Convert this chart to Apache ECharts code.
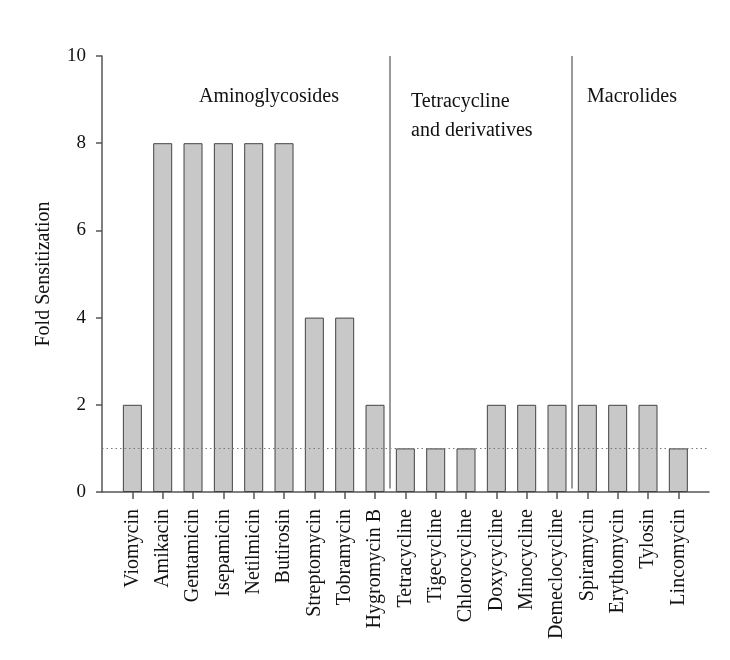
<!DOCTYPE html>
<html>
<head>
<meta charset="utf-8">
<script src="https://cdn.jsdelivr.net/npm/echarts@6/dist/echarts.min.js"></script>
<style>
  html, body { margin: 0; padding: 0; background: #fff; }
  #chart { width: 730px; height: 660px; }
</style>
</head>
<body>
<div id="chart"></div>
<script>
// Antibiotics tested, in plotting order
const drugs = [
  'Viomycin', 'Amikacin', 'Gentamicin', 'Isepamicin', 'Netilmicin', 'Butirosin',
  'Streptomycin', 'Tobramycin', 'Hygromycin B',
  'Tetracycline', 'Tigecycline', 'Chlorocycline', 'Doxycycline', 'Minocycline', 'Demeclocycline',
  'Spiramycin', 'Erythomycin', 'Tylosin', 'Lincomycin'
];
// Fold sensitization per antibiotic
const foldSensitization = [2, 8, 8, 8, 8, 8, 4, 4, 2, 1, 1, 1, 2, 2, 2, 2, 2, 2, 1];
// Antibiotic classes and how many drugs belong to each
const groupNames = ['Aminoglycosides', 'Tetracycline\nand derivatives', 'Macrolides'];
const groupSizes = [9, 6, 4];
// Reference level (no change in sensitivity)
const baseline = 1;
// Y axis ticks
const yMin = 0, yMax = 10, yStep = 2;

// Class boundaries sit between the last drug of one class and the first of the next
const boundaries = [];
let acc = 0;
for (let i = 0; i < groupSizes.length - 1; i++) {
  acc += groupSizes[i];
  boundaries.push(acc - 0.5);
}

const font = '"Liberation Serif", "Times New Roman", serif';
const axisColor = '#555';
const chart = echarts.init(document.getElementById('chart'));

const option = {
  backgroundColor: '#fff',
  animation: false,
  grid: [
    { left: 102, top: 56, width: 607, height: 436 },
    { left: 117.2, top: 56, width: 576.3, height: 436 }
  ],
  xAxis: [
    { // frame axis spanning the full plot width
      type: 'value', gridIndex: 0, min: 0, max: 1,
      axisLine: { show: true, lineStyle: { color: axisColor, width: 1.5 } },
      axisTick: { show: false }, axisLabel: { show: false }, splitLine: { show: false }
    },
    { // drug categories
      type: 'category', gridIndex: 1, data: drugs,
      axisLine: { show: false },
      axisTick: { show: true, alignWithLabel: true, length: 7, lineStyle: { color: axisColor, width: 1.5 } },
      axisLabel: { rotate: 90, interval: 0, margin: 17, fontFamily: font, fontSize: 20, color: '#111' },
      splitLine: { show: false }
    },
    { // index scale used for class separators
      type: 'value', gridIndex: 1, min: -0.5, max: drugs.length - 0.5, show: false
    }
  ],
  yAxis: [
    {
      type: 'value', gridIndex: 0, min: yMin, max: yMax, interval: yStep,
      name: 'Fold Sensitization', nameLocation: 'middle', nameGap: 48, nameRotate: 90,
      nameTextStyle: { fontFamily: font, fontSize: 20, color: '#111' },
      axisLine: { show: true, lineStyle: { color: axisColor, width: 1.5 } },
      axisTick: { show: true, length: 6, lineStyle: { color: axisColor, width: 1.5 } },
      axisLabel: { margin: 16, fontFamily: font, fontSize: 19, color: '#111' },
      splitLine: { show: false }
    },
    { type: 'value', gridIndex: 1, min: yMin, max: yMax, interval: yStep, show: false }
  ],
  series: [
    {
      type: 'bar', xAxisIndex: 1, yAxisIndex: 1,
      data: foldSensitization,
      barWidth: 19,
      itemStyle: { color: '#c8c8c8', borderColor: '#444', borderWidth: 1 },
      silent: true
    },
    { // dotted baseline across the full plot width
      type: 'line', xAxisIndex: 0, yAxisIndex: 0, data: [],
      markLine: {
        silent: true, symbol: 'none', label: { show: false },
        lineStyle: { color: '#777', type: [1.5, 3], width: 1.2 },
        data: [{ yAxis: baseline }]
      }
    },
    { // vertical separators between antibiotic classes
      type: 'line', xAxisIndex: 2, yAxisIndex: 1, data: [],
      markLine: {
        silent: true, symbol: 'none', label: { show: false },
        lineStyle: { color: '#9a9a9a', type: 'solid', width: 2 },
        data: boundaries.map(b => [{ coord: [b, 0.08] }, { coord: [b, yMax] }])
      }
    }
  ],
  graphic: [
    { type: 'text', left: 199, top: 87, style: { text: groupNames[0], font: '20px ' + font, fill: '#111' } },
    { type: 'text', left: 411, top: 87, style: { text: groupNames[1], font: '20px ' + font, fill: '#111', lineHeight: 29 } },
    { type: 'text', left: 587, top: 87, style: { text: groupNames[2], font: '20px ' + font, fill: '#111' } }
  ]
};

chart.setOption(option);
</script>
</body>
</html>
